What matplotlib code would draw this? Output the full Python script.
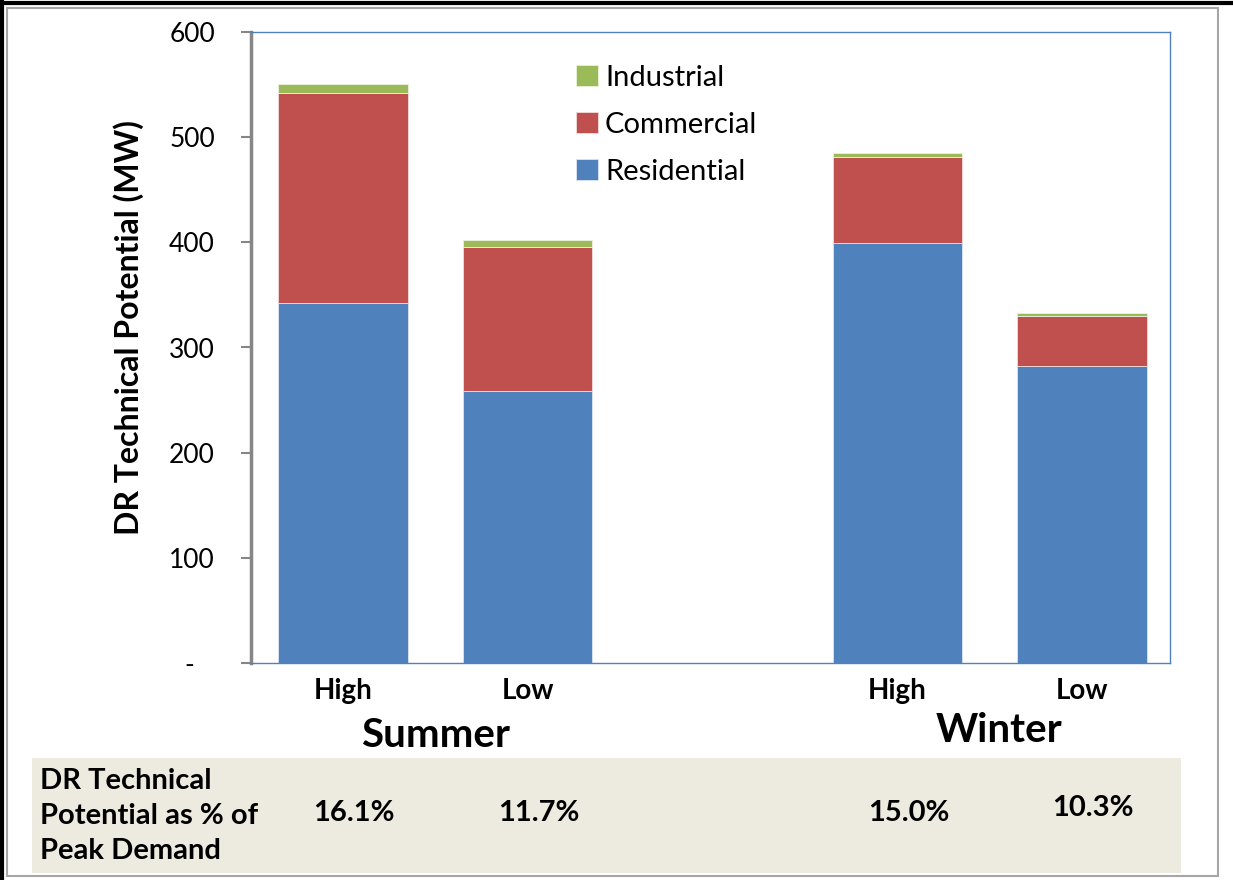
import matplotlib.pyplot as plt
import matplotlib.patches as mpatches
from matplotlib.lines import Line2D
from matplotlib.ticker import FuncFormatter

plt.rcParams['font.family'] = ['Lato', 'DejaVu Sans']

# DR technical potential (MW) by scenario
scenarios = ['High', 'Low', 'High', 'Low']
seasons = ['Summer', 'Winter']
residential = [342, 259, 399, 282]
commercial = [200, 137, 82, 48]
industrial = [9, 6, 4, 3]
pct_of_peak = ['16.1%', '11.7%', '15.0%', '10.3%']

blue = '#4F81BD'
red = '#C0504D'
green = '#9BBB59'

W, H = 1233, 880
fig = plt.figure(figsize=(W / 100, H / 100), dpi=100)
fig.patch.set_facecolor('white')


def fx(px):
    return px / W


def fy(py):
    return 1 - py / H


# page frame: grey inner border plus black top/left rule
fig.patches.append(mpatches.Rectangle((fx(7), fy(876)), fx(1218 - 7), (876 - 8) / H,
                                      transform=fig.transFigure, fill=False,
                                      edgecolor='#A6A6A6', linewidth=1.5, zorder=-1))
fig.lines.append(Line2D([0, 1], [fy(3), fy(3)], transform=fig.transFigure,
                        color='black', linewidth=3))
fig.lines.append(Line2D([fx(2), fx(2)], [0, 1], transform=fig.transFigure,
                        color='black', linewidth=3))

# beige band holding the % of peak demand row
fig.patches.append(mpatches.Rectangle((fx(32), fy(873)), fx(1181 - 32), (873 - 758) / H,
                                      transform=fig.transFigure, zorder=-1,
                                      facecolor='#EDEAE0', edgecolor='none'))

ax = fig.add_axes([fx(251), fy(663), fx(1170 - 251), (663 - 32) / H])
ax.patch.set_alpha(0)
x = [0, 1, 3, 4]
bw = 0.70

bottom2 = [r + c for r, c in zip(residential, commercial)]
ax.bar(x, residential, bw, color=blue, edgecolor='#DCE6F2', linewidth=0.6,
       label='Residential', zorder=2)
ax.bar(x, commercial, bw, bottom=residential, color=red, edgecolor='#F2DCDB',
       linewidth=0.6, label='Commercial', zorder=2)
ax.bar(x, industrial, bw, bottom=bottom2, color=green, edgecolor='#EBF1DE',
       linewidth=0.6, label='Industrial', zorder=2)

ax.set_xlim(-0.497, 4.476)
ax.set_ylim(0, 600)
ax.set_yticks(range(0, 601, 100))
ax.yaxis.set_major_formatter(FuncFormatter(lambda v, p: '-   ' if v == 0 else f'{v:.0f}'))
ax.tick_params(axis='y', direction='out', length=7, width=1.5, color='#868686',
               labelsize=19, pad=19)
ax.set_xticks(x)
ax.set_xticklabels(scenarios, fontsize=20, fontweight='bold')
ax.tick_params(axis='x', length=0, pad=11)

for side in ['top', 'right', 'bottom']:
    ax.spines[side].set_color(blue)
    ax.spines[side].set_linewidth(1)
ax.spines['left'].set_color('#868686')
ax.spines['left'].set_linewidth(2.5)

ax.set_ylabel('DR Technical Potential (MW)', fontsize=23, fontweight='bold')
ax.yaxis.set_label_coords(-0.116, 0.532)

handles, labels = ax.get_legend_handles_labels()
ax.legend(handles[::-1], labels[::-1], loc='upper left', bbox_to_anchor=(0.325, 0.99),
          frameon=False, fontsize=21, handlelength=0.75, handleheight=0.75,
          handletextpad=0.25, labelspacing=0.72)

# season names under each pair of bars
for xpos, name, ypx in [(0.5, seasons[0], 735), (3.55, seasons[1], 730)]:
    ax.annotate(name, xy=(xpos, fy(ypx)), xycoords=('data', 'figure fraction'),
                ha='center', va='center', fontsize=29, fontweight='bold',
                annotation_clip=False)

fig.text(fx(40), fy(816), 'DR Technical\nPotential as % of\nPeak Demand',
         ha='left', va='center', fontsize=21, fontweight='bold', linespacing=1.45)

for xpos, txt, ypx in zip(x, pct_of_peak, [813, 813, 813, 808]):
    ax.annotate(txt, xy=(xpos, fy(ypx)), xycoords=('data', 'figure fraction'),
                xytext=(8, 0), textcoords='offset points',
                ha='center', va='center', fontsize=21, fontweight='bold',
                annotation_clip=False)

fig.savefig('out.png', dpi=100, facecolor='white')
